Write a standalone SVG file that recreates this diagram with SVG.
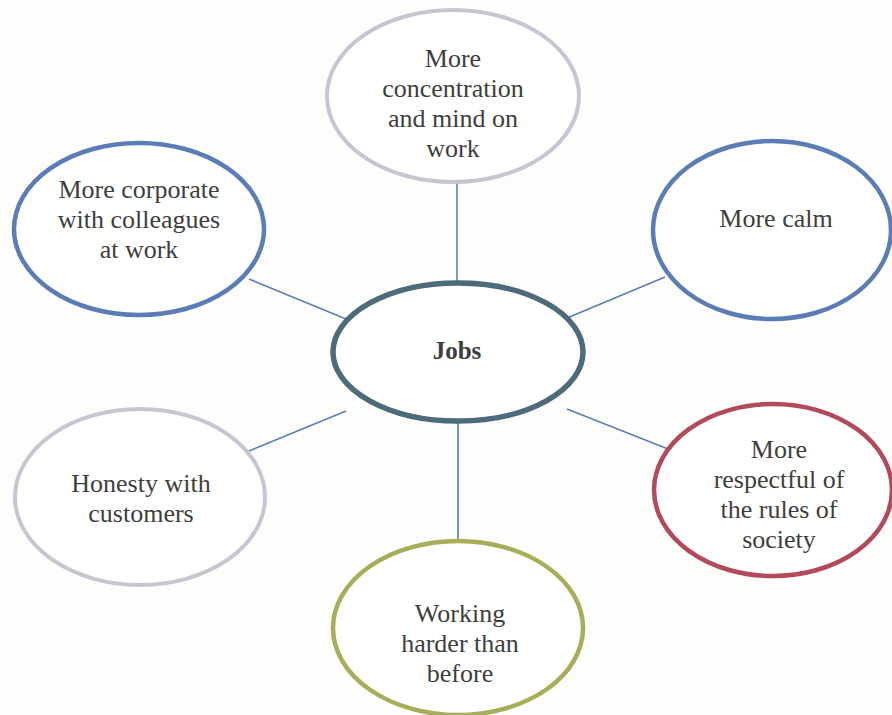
<svg xmlns="http://www.w3.org/2000/svg" width="892" height="715" viewBox="0 0 892 715">
<style>
.n{fill:#ffffff;stroke-width:4.5}
.blue{stroke:#5b7db5}
.gray{stroke:#c6c6d2;stroke-width:4}
.center{stroke:#4e6b7b;stroke-width:5.5}
.red{stroke:#b24a5b}
.olive{stroke:#a8ad58}
text{font-size:26px;fill:#3e3e3e;text-anchor:middle}
.b{font-weight:bold;font-size:25px}
#connectors line{stroke:#5b7fb8;stroke-width:1.6}
</style>
<rect width="892" height="715" fill="#fdfdfc"/>
<g id="connectors">
<line x1="457" y1="183" x2="457" y2="284"/>
<line x1="249" y1="279" x2="346" y2="319"/>
<line x1="567" y1="318" x2="665" y2="277"/>
<line x1="249" y1="451" x2="346" y2="411"/>
<line x1="567" y1="409" x2="668" y2="449"/>
<line x1="458" y1="421" x2="458" y2="541"/>
</g>
<g font-family="Liberation Serif, Noto Serif, DejaVu Serif, serif">
<g id="node-top">
<ellipse class="n gray" cx="453" cy="96" rx="126" ry="86"/>
<text x="453" y="67">More</text>
<text x="453" y="97">concentration</text>
<text x="453" y="127">and mind on</text>
<text x="453" y="157">work</text>
</g>
<g id="node-topleft">
<ellipse class="n blue" cx="139" cy="229" rx="125" ry="86"/>
<text x="139" y="198">More corporate</text>
<text x="139" y="228">with colleagues</text>
<text x="139" y="258">at work</text>
</g>
<g id="node-topright">
<ellipse class="n blue" cx="772" cy="230" rx="119" ry="89"/>
<text x="776" y="227">More calm</text>
</g>
<g id="node-center">
<ellipse class="n center" cx="458" cy="352" rx="125" ry="69"/>
<text class="b" x="457" y="359">Jobs</text>
</g>
<g id="node-bottomleft">
<ellipse class="n gray" cx="140" cy="497" rx="125" ry="88"/>
<text x="141" y="492">Honesty with</text>
<text x="141" y="522">customers</text>
</g>
<g id="node-bottomright">
<ellipse class="n red" cx="773" cy="490" rx="119" ry="86"/>
<text x="779" y="458">More</text>
<text x="779" y="488">respectful of</text>
<text x="779" y="518">the rules of</text>
<text x="779" y="548">society</text>
</g>
<g id="node-bottom">
<ellipse class="n olive" cx="458" cy="628" rx="125" ry="87"/>
<text x="460" y="622">Working</text>
<text x="460" y="652">harder than</text>
<text x="460" y="682">before</text>
</g>
</g>
</svg>
